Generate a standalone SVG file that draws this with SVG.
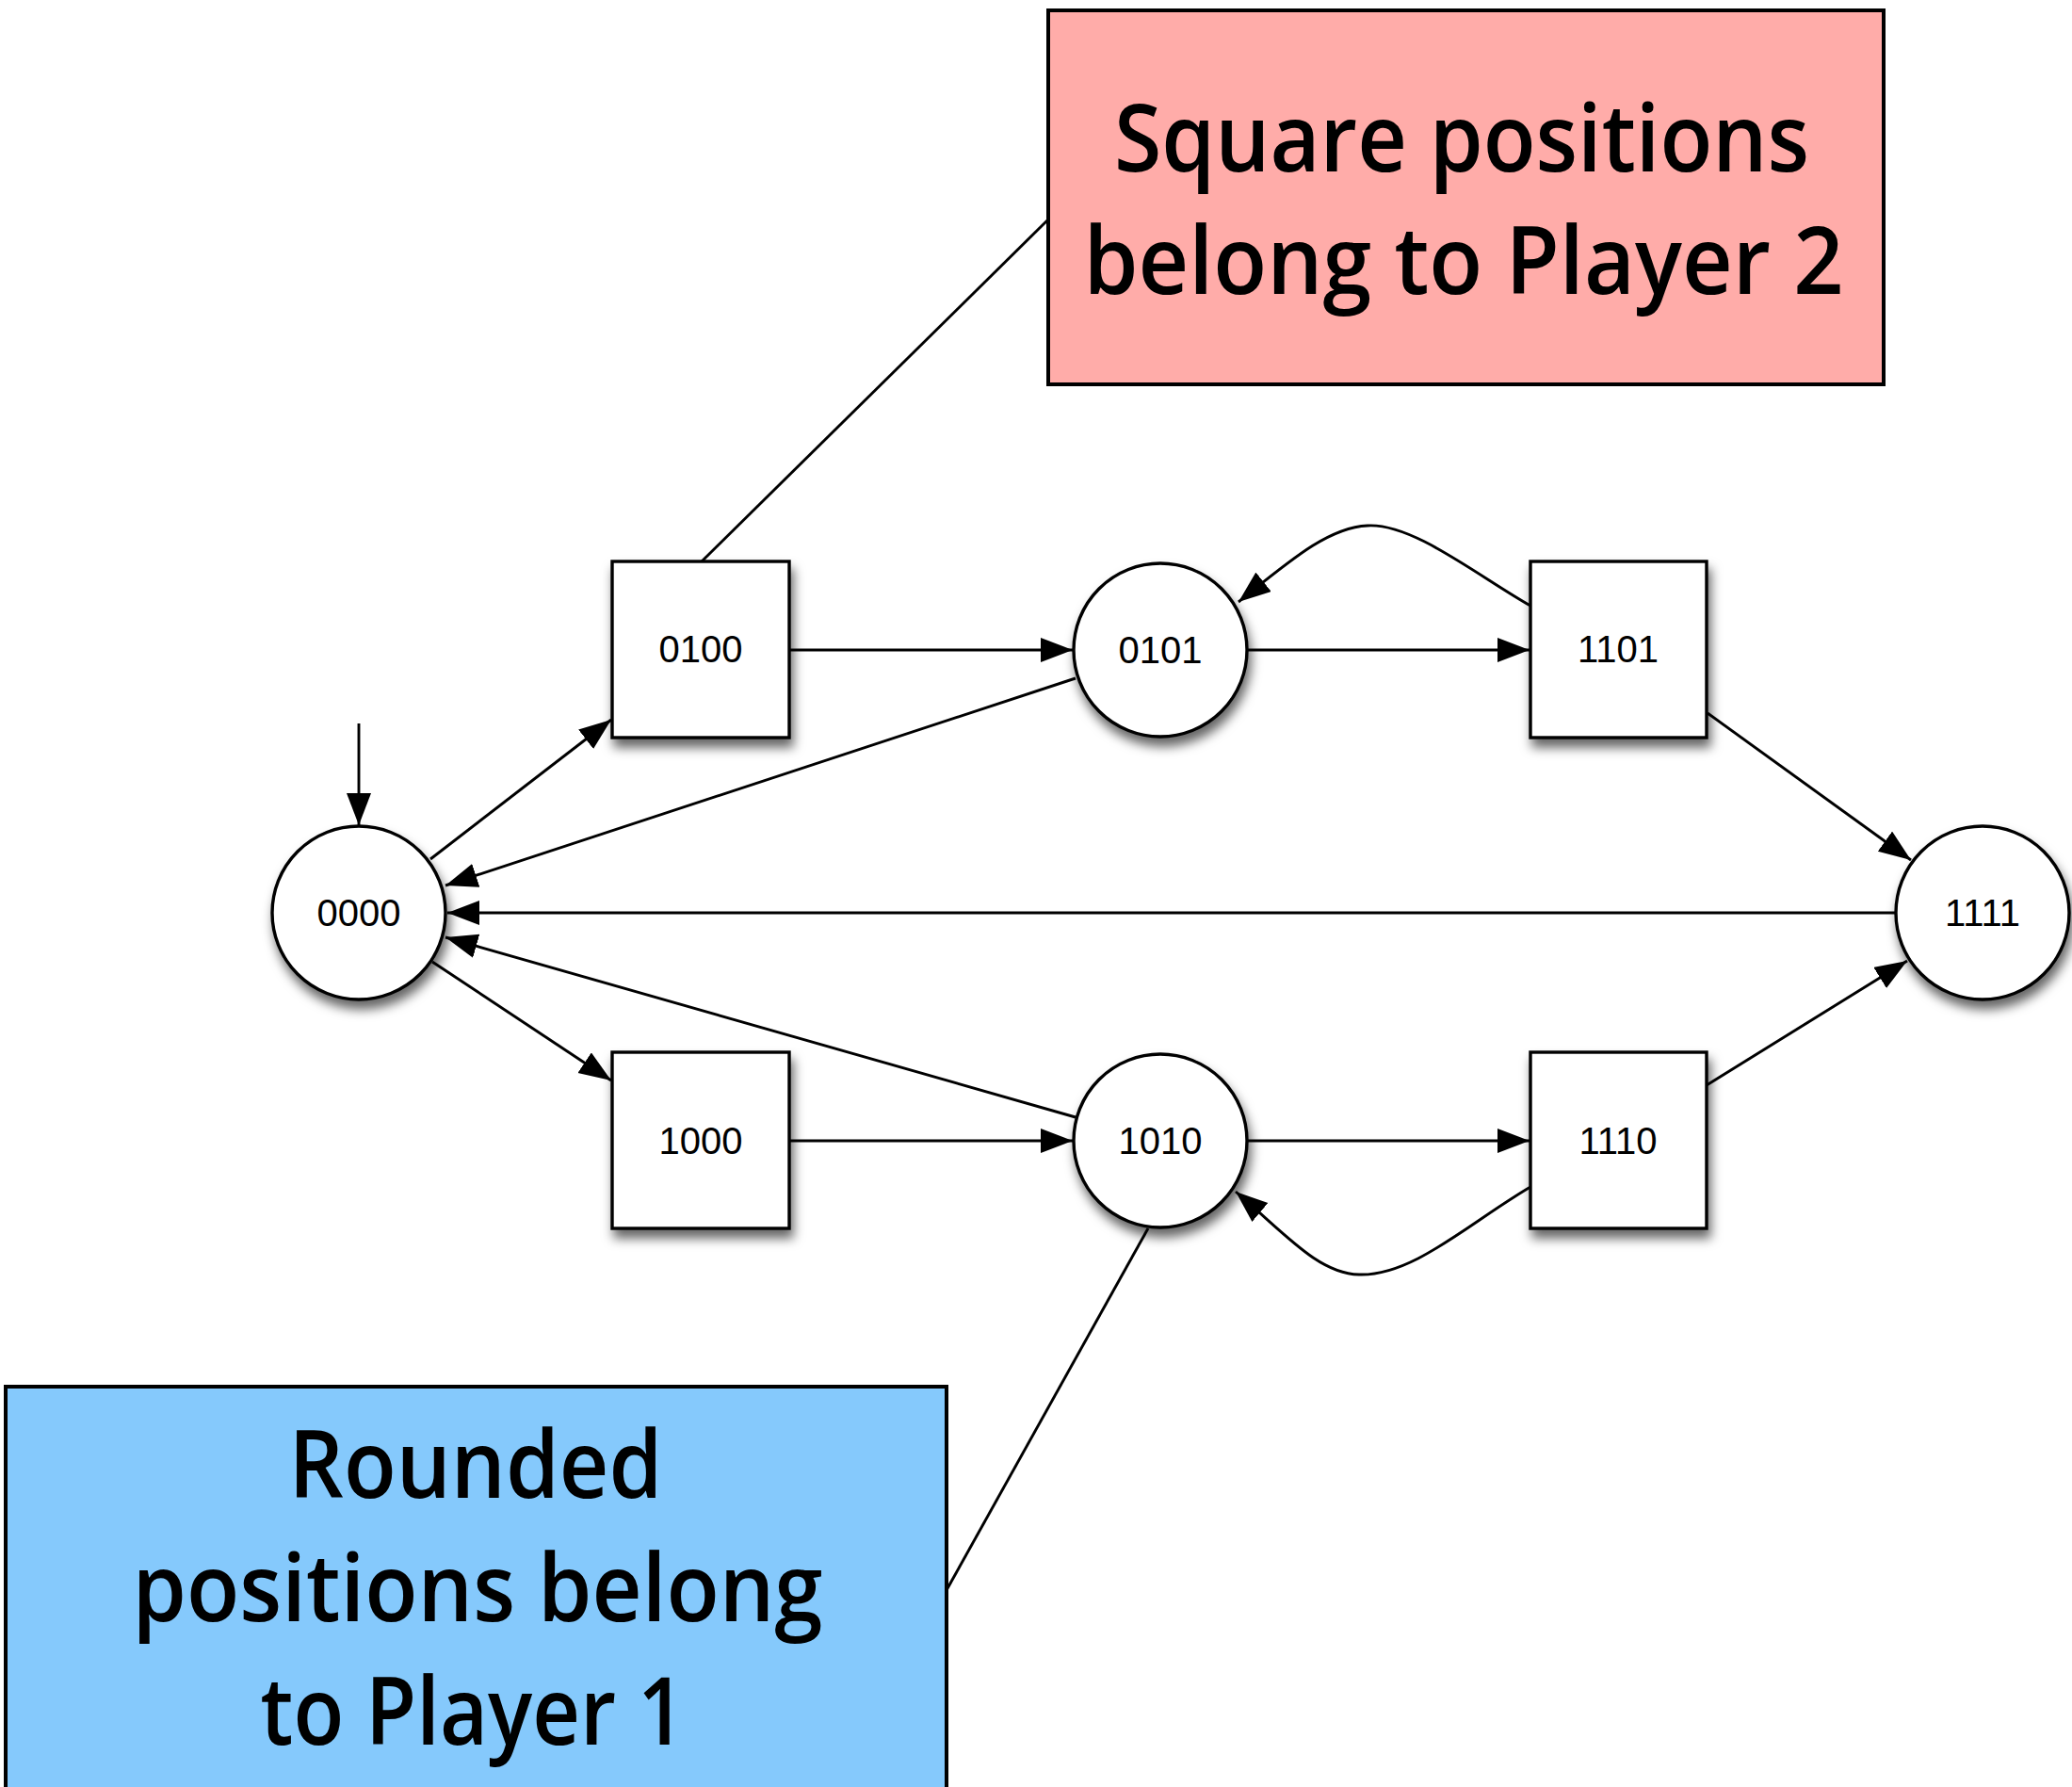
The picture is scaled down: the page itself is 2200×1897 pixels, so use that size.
<svg xmlns="http://www.w3.org/2000/svg" width="2200" height="1897" viewBox="0 0 2200 1897">
<defs>
<filter id="sh" x="-30%" y="-30%" width="160%" height="170%">
<feDropShadow dx="3" dy="9" stdDeviation="6" flood-color="#000" flood-opacity="0.6"/>
</filter>
<marker id="ah" markerUnits="userSpaceOnUse" markerWidth="36" markerHeight="28" refX="34" refY="13" orient="auto">
<path d="M0,0 L34,13 L0,26 z" fill="#000"/>
</marker>
<style>
.node{fill:#fff;stroke:#000;stroke-width:3.4;filter:url(#sh)}
.lbl{font-family:"Liberation Sans",Arial,sans-serif;font-size:40px;fill:#000;text-anchor:middle}
.edge{fill:none;stroke:#000;stroke-width:2.9}
.arr{marker-end:url(#ah)}
.big{font-family:"Open Sans","Lato",sans-serif;font-size:100px;font-weight:600;fill:#000;text-anchor:middle}
.note{stroke:#000;stroke-width:4}
</style>
</defs>
<rect width="2200" height="1897" fill="#fff"/>

<g id="note-player2">
<rect class="note" x="1113" y="11" width="887" height="397" fill="#FFACA9"/>
<text class="big" x="1552" y="182" textLength="738" lengthAdjust="spacingAndGlyphs">Square positions</text>
<text class="big" x="1554" y="312" textLength="807" lengthAdjust="spacingAndGlyphs">belong to Player 2</text>
</g>
<g id="note-player1">
<rect class="note" x="6" y="1472" width="999" height="430" fill="#85C9FC"/>
<text class="big" x="505" y="1590" textLength="397" lengthAdjust="spacingAndGlyphs">Rounded</text>
<text class="big" x="507" y="1721" textLength="733" lengthAdjust="spacingAndGlyphs">positions belong</text>
<text class="big" x="502" y="1852" textLength="451" lengthAdjust="spacingAndGlyphs">to Player 1</text>
</g>

<g id="n0000"><circle class="node" cx="381" cy="969" r="92"/><text class="lbl" x="381" y="983">0000</text></g>
<g id="n0100"><rect class="node" x="650" y="596" width="188" height="187"/><text class="lbl" x="744" y="703">0100</text></g>
<g id="n0101"><circle class="node" cx="1232" cy="690" r="92"/><text class="lbl" x="1232" y="704">0101</text></g>
<g id="n1101"><rect class="node" x="1625" y="596" width="187" height="187"/><text class="lbl" x="1718" y="703">1101</text></g>
<g id="n1111"><circle class="node" cx="2105" cy="969" r="92"/><text class="lbl" x="2105" y="983">1111</text></g>
<g id="n1000"><rect class="node" x="650" y="1117" width="188" height="187"/><text class="lbl" x="744" y="1225">1000</text></g>
<g id="n1010"><circle class="node" cx="1232" cy="1211" r="92"/><text class="lbl" x="1232" y="1225">1010</text></g>
<g id="n1110"><rect class="node" x="1625" y="1117" width="187" height="187"/><text class="lbl" x="1718" y="1225">1110</text></g>

<g id="connectors">
<path class="edge arr" d="M381,768 L381,876"/>
<path class="edge arr" d="M457,912 L649,764"/>
<path class="edge arr" d="M1142,720 L473,940"/>
<path class="edge arr" d="M2013,969 L475,969"/>
<path class="edge arr" d="M1142,1186 L473,995"/>
<path class="edge arr" d="M459,1021 L649,1147"/>
<path class="edge arr" d="M838,690 L1139,690"/>
<path class="edge arr" d="M1324,690 L1624,690"/>
<path class="edge arr" d="M1625,643 C1570,612 1500,555 1452,558 C1410,560 1370,595 1315,639"/>
<path class="edge arr" d="M1813,757 L2029,913"/>
<path class="edge arr" d="M838,1211 L1139,1211"/>
<path class="edge arr" d="M1324,1211 L1624,1211"/>
<path class="edge arr" d="M1625,1260 C1560,1298 1500,1355 1443,1353 C1400,1352 1365,1310 1312,1265"/>
<path class="edge arr" d="M1812,1152 L2025,1020"/>
<path class="edge" stroke-width="3.2" d="M745,596 L1113,233"/>
<path class="edge" stroke-width="3.2" d="M1005,1688 L1219,1304"/>
</g>
</svg>
